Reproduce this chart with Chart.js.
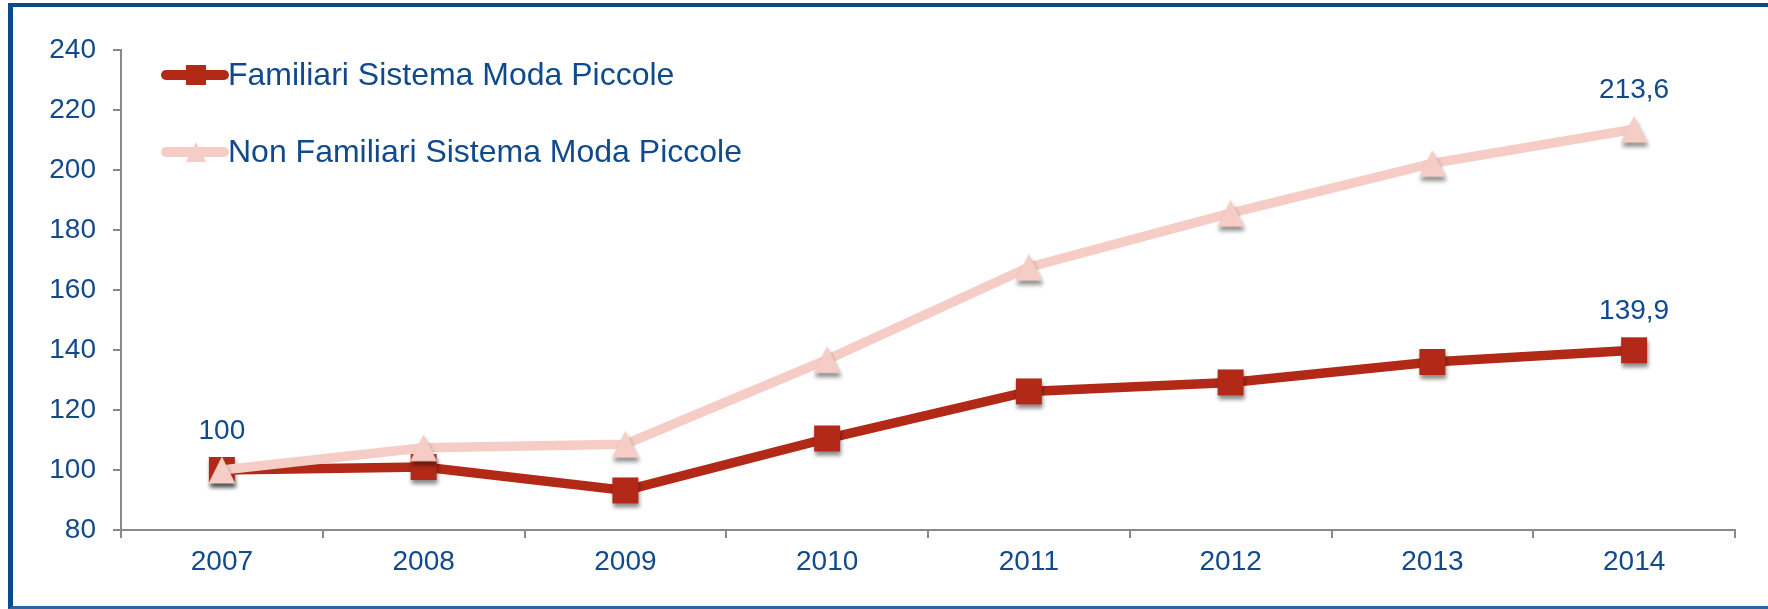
<!DOCTYPE html>
<html>
<head>
<meta charset="utf-8">
<script src="https://cdn.jsdelivr.net/npm/chart.js@4.4.0/dist/chart.umd.min.js"></script>
<style>
html, body { margin: 0; padding: 0; background: #fff; overflow: hidden; }
#wrap { position: relative; width: 1768px; height: 609px; }
#cornice {
    position: absolute; left: 8px; top: 3px; width: 1800px; height: 599px;
    border-left: 5px solid #0b4a8c; border-top: 4px solid #0b4a8c; border-bottom: 3px solid #2d64a0;
    pointer-events: none;
}
</style>
</head>
<body>
<div id="wrap">
    <canvas id="grafico" width="1768" height="609"></canvas>
    <div id="cornice"></div>
</div>
<script>
// dati
var anni = ['2007', '2008', '2009', '2010', '2011', '2012', '2013', '2014'];
var familiari = [100, 101, 93.2, 110.5, 126.2, 129.2, 136, 139.9];
var nonFamiliari = [100, 107.4, 108.6, 136.8, 167.6, 185.6, 202.2, 213.6];
var nomi = ['Familiari Sistema Moda Piccole', 'Non Familiari Sistema Moda Piccole'];
var tickY = [80, 240, 20]; // min, max, passo
// punti con etichetta: [serie, indice]
var etichette = [[0, 0], [0, 7], [1, 7]];

var rosso = '#b22a17';
var rosa = '#f6cdc6';
var blu = '#10498c';
var grigio = '#8a8a8a';
var font = '"Liberation Sans", Arial, sans-serif';

// marker con ombra
function marker(tipo, colore) {
    var c = document.createElement('canvas');
    c.width = 46; c.height = 46;
    var g = c.getContext('2d');
    g.shadowColor = 'rgba(0,0,0,0.45)';
    g.shadowBlur = 4;
    g.shadowOffsetX = 1;
    g.shadowOffsetY = 4;
    g.fillStyle = colore;
    if (tipo == 'quadrato') {
        g.fillRect(10, 10, 26, 26);
    } else {
        g.beginPath();
        g.moveTo(23, 9.5);
        g.lineTo(36.5, 36.5);
        g.lineTo(9.5, 36.5);
        g.closePath();
        g.fill();
    }
    return c;
}

var extra = {
    id: 'extra',
    afterDraw: function(chart) {
        var ctx = chart.ctx;
        ctx.save();
        // legenda
        var righe = [75, 152];
        var colori = [rosso, rosa];
        for (var i = 0; i < 2; i++) {
            var y = righe[i];
            ctx.strokeStyle = colori[i];
            ctx.fillStyle = colori[i];
            ctx.lineWidth = 10;
            ctx.lineCap = 'round';
            ctx.beginPath();
            ctx.moveTo(166, y);
            ctx.lineTo(224, y);
            ctx.stroke();
            if (i == 0) {
                ctx.fillRect(186, y - 10, 20, 20);
            } else {
                ctx.beginPath();
                ctx.moveTo(196, y - 10);
                ctx.lineTo(206, y + 10);
                ctx.lineTo(186, y + 10);
                ctx.closePath();
                ctx.fill();
            }
            ctx.fillStyle = blu;
            ctx.font = '32px ' + font;
            ctx.textAlign = 'left';
            ctx.textBaseline = 'alphabetic';
            ctx.fillText(nomi[i], 228, y + 10);
        }
        // etichette dei valori
        ctx.font = '28px ' + font;
        ctx.fillStyle = blu;
        ctx.textAlign = 'center';
        ctx.textBaseline = 'middle';
        etichette.forEach(function(e) {
            var p = chart.getDatasetMeta(e[0]).data[e[1]];
            var v = chart.data.datasets[e[0]].data[e[1]];
            ctx.fillText(String(v).replace('.', ','), p.x, p.y - 39);
        });
        ctx.restore();
    }
};

var ctx = document.getElementById('grafico').getContext('2d');
var grafico = new Chart(ctx, {
    type: 'line',
    data: {
        labels: anni,
        datasets: [{
            label: nomi[0],
            data: familiari,
            borderColor: rosso,
            backgroundColor: rosso,
            borderWidth: 9.5,
            pointStyle: marker('quadrato', rosso),
            pointRadius: 13,
            order: 1
        }, {
            label: nomi[1],
            data: nonFamiliari,
            borderColor: rosa,
            backgroundColor: rosa,
            borderWidth: 9.5,
            pointStyle: marker('triangolo', rosa),
            pointRadius: 13,
            order: 0
        }]
    },
    options: {
        responsive: false,
        animation: false,
        layout: {
            padding: { top: 50, right: 33, bottom: 0, left: 0 }
        },
        plugins: {
            legend: { display: false },
            tooltip: { enabled: false }
        },
        scales: {
            x: {
                offset: true,
                afterFit: function(s) { s.height = 79; },
                grid: { offset: true, drawOnChartArea: false, tickLength: 8, color: grigio, lineWidth: 2 },
                border: { color: grigio, width: 2 },
                ticks: { color: blu, font: { family: font, size: 28 }, padding: 7 }
            },
            y: {
                min: tickY[0],
                max: tickY[1],
                afterFit: function(s) { s.width = 121; },
                grid: { drawOnChartArea: false, tickLength: 8, color: grigio, lineWidth: 2 },
                border: { color: grigio, width: 2 },
                ticks: { stepSize: tickY[2], color: blu, font: { family: font, size: 28 }, padding: 17 }
            }
        }
    },
    plugins: [extra]
});
</script>
</body>
</html>
